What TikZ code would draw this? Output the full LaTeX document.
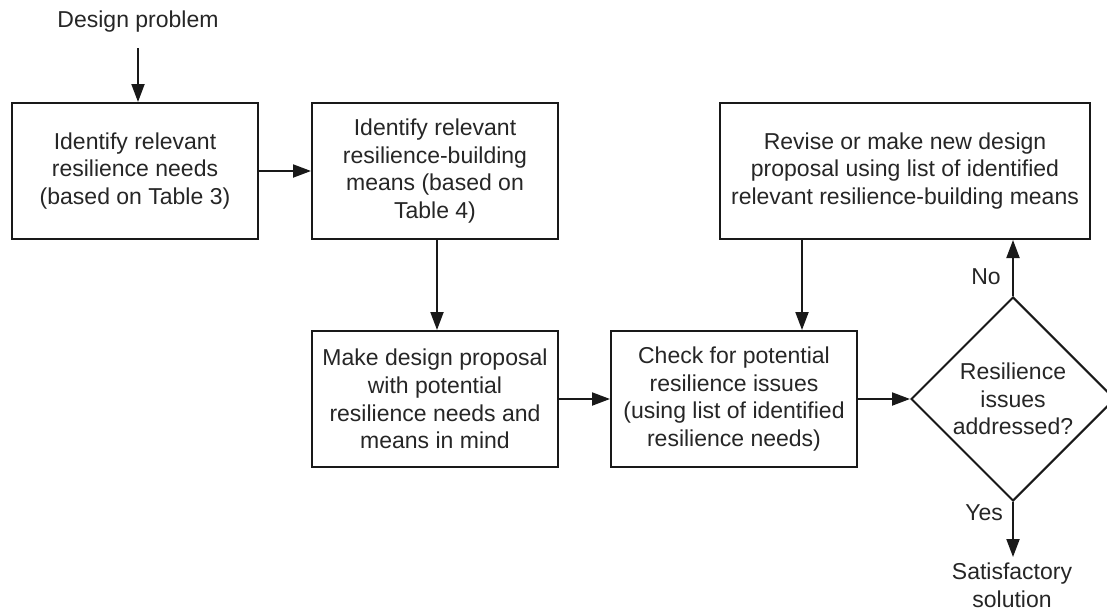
\documentclass[tikz,border=0pt]{standalone}
\usepackage{fontspec}
\setmainfont{Liberation Sans}
\usetikzlibrary{arrows.meta,shapes.geometric}
\begin{document}
\begin{tikzpicture}[x=1pt,y=-1pt,
  every node/.style={font=\fontsize{23}{27.6}\selectfont, text=black!85},
  box/.style={draw=black!90, line width=2pt, minimum width=246pt, minimum height=136pt, align=center, inner sep=0pt},
  decision/.style={draw=black!90, line width=2pt, diamond, minimum width=204pt, minimum height=204pt, align=center, inner sep=0pt},
  arr/.style={draw=black!90, line width=2pt, -{Triangle[length=18pt,width=13pt]}},
  lbl/.style={align=center, inner sep=0pt}
]
\clip (0,0) rectangle (1107,613);
\fill[white] (0,0) rectangle (1107,613);

\node[lbl] (dp) at (138,22) {Design problem};
\coordinate (dpin) at (138,48);

\node[box] (b1) at (135,171) {Identify relevant\\resilience needs\\(based on Table 3)};
\node[box] (b2) at (435,171) {Identify relevant\\resilience-building\\means (based on\\Table 4)};
\node[box] (b3) at (435,399) {Make design proposal\\with potential\\resilience needs and\\means in mind};
\node[box] (b4) at (734,399) {Check for potential\\resilience issues\\(using list of identified\\resilience needs)};
\node[box, minimum width=370pt] (b5) at (905,171) {Revise or make new design\\proposal using list of identified\\relevant resilience-building means};
\node[decision] (d) at (1013,399) {Resilience\\issues\\addressed?};

\node[lbl] (no) at (986,277) {No};
\node[lbl] (yes) at (984,513) {Yes};
\node[lbl] (sat) at (1012,585) {Satisfactory\\solution};
\coordinate (yend) at (1013,557);
\coordinate (c5) at (802,0);
\coordinate (c2) at (437,0);

\draw[arr] (dpin) -- (b1.north -| dpin);
\draw[arr] (b1.east) -- (b2.west);
\draw[arr] (c2 |- b2.south) -- (c2 |- b3.north);
\draw[arr] (b3.east) -- (b4.west);
\draw[arr] (c5 |- b5.south) -- (c5 |- b4.north);
\draw[arr] (b4.east) -- (d.west);
\draw[arr] (d.north) -- (d.north |- b5.south);
\draw[arr] (d.south) -- (yend);
\end{tikzpicture}
\end{document}
